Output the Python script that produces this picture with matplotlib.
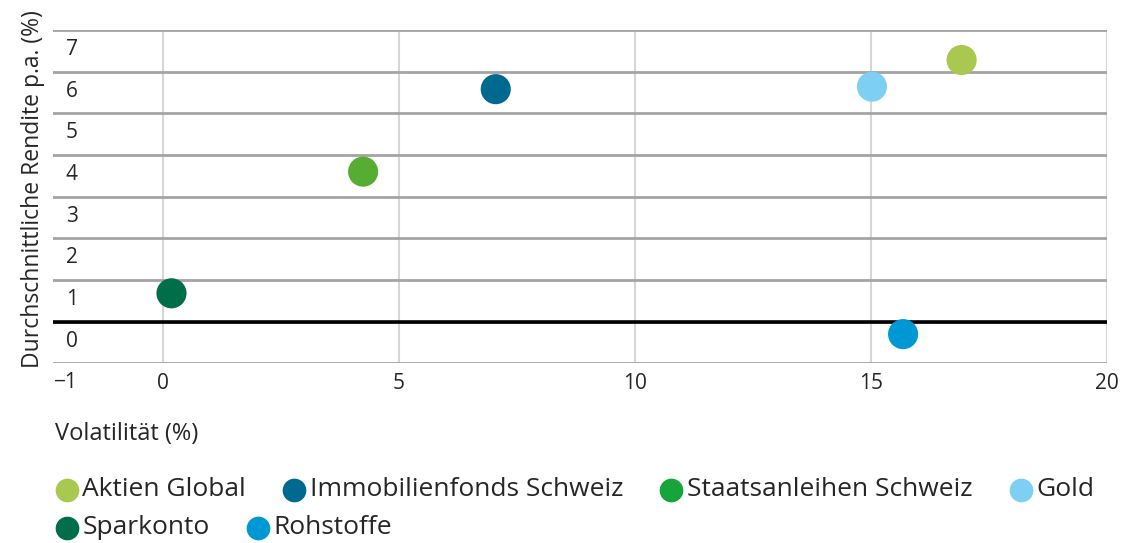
import numpy as np
import matplotlib
matplotlib.use("Agg")
from matplotlib import pyplot as plt
from matplotlib.transforms import ScaledTranslation

plt.rcParams['font.family'] = ['Open Sans', 'DejaVu Sans']

# data
names = ['Aktien Global', 'Immobilienfonds Schweiz', 'Staatsanleihen Schweiz',
         'Gold', 'Sparkonto', 'Rohstoffe']
volatility = [16.92, 7.05, 4.24, 15.02, 0.18, 15.68]
returns = [6.28, 5.58, 3.60, 5.64, 0.68, -0.30]
colors = ['#a9c84f', '#00698f', '#57ad32', '#7dcff4', '#006e49', '#0098d4']
legend_colors = ['#a9c84f', '#00698f', '#16a43b', '#7dcff4', '#006e49', '#0098d4']
x_ticks = [0, 5, 10, 15, 20]
y_ticks = [-1, 0, 1, 2, 3, 4, 5, 6, 7]

txt = '#262626'
W, H = 1143, 543
fig = plt.figure(figsize=(W / 100, H / 100), dpi=100)
l, r, t, b = 53, 1107, 30, 363.3
ax = fig.add_axes([l / W, 1 - b / H, (r - l) / W, (b - t) / H])

ax.set_xlim(-2.33, 20)
ax.set_ylim(-1, 7)
for s in ax.spines.values():
    s.set_visible(False)

ax.set_xticks(x_ticks)
ax.set_yticks(y_ticks)
ax.set_xticklabels([str(v) for v in x_ticks])
ax.set_yticklabels(['\u22121' if v < 0 else str(v) for v in y_ticks])
ax.tick_params(length=0, labelsize=15, labelcolor=txt)
ax.tick_params(axis='x', pad=7)
ax.tick_params(axis='y', pad=0)

# y labels sit inside the plot, just under their gridline
off = ScaledTranslation(25 / 100, -17 / 100, fig.dpi_scale_trans)
for lbl in ax.get_yticklabels():
    lbl.set_transform(lbl.get_transform() + off)

ax.grid(axis='x', color='#d6d6d6', lw=1.5, zorder=0)
ax.grid(axis='y', color='#a4a4a4', lw=2.0, zorder=0)
ax.axhline(0, color='black', lw=2.6, zorder=1)
ax.set_axisbelow(True)

handles = []
for xv, yv, c, n in zip(volatility, returns, colors, names):
    h = ax.scatter([xv], [yv], s=470, color=c, edgecolors='none', label=n, zorder=3)
    handles.append(h)

fig.text(33 / W, 1 - 189 / H, 'Durchschnittliche Rendite p.a. (%)', rotation=90,
         ha='center', va='center', fontsize=16.5, color=txt)
fig.text(55 / W, 1 - 434 / H, 'Volatilit\u00e4t (%)', ha='left', va='center',
         fontsize=17, color=txt)

leg_kw = dict(frameon=False, loc='center left', fontsize=19, handlelength=0.95,
              handletextpad=0.12, columnspacing=1.35, borderpad=0,
              borderaxespad=0, markerscale=0.74, labelcolor=txt)
leg1 = fig.legend(handles[:4], names[:4], ncol=4,
                  bbox_to_anchor=(54 / W, 1 - 490 / H), **leg_kw)
leg2 = fig.legend(handles[4:], names[4:], ncol=2,
                  bbox_to_anchor=(54 / W, 1 - 528 / H), **leg_kw)
for leg, cols in ((leg1, legend_colors[:4]), (leg2, legend_colors[4:])):
    for hd, c in zip(leg.legend_handles, cols):
        hd.set_color(c)

fig.savefig('out.png', dpi=100)
